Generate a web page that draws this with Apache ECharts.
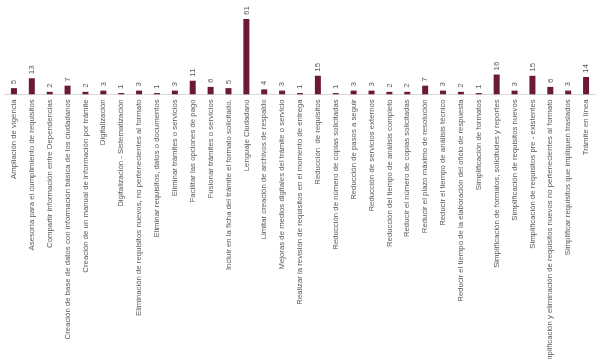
<!DOCTYPE html>
<html><head><meta charset="utf-8">
<script src="https://cdn.jsdelivr.net/npm/echarts@6/dist/echarts.min.js"></script>
<style>html,body{margin:0;padding:0;background:#fff}#c{width:600px;height:359px}</style>
</head><body><div id="c"></div>
<script>
const categories = [
  "Ampliación de vigencia",
  "Asesoría para el cumplimiento de requisitos",
  "Compartir información entre Dependencias",
  "Creación de base de datos con información básica de los ciudadanos",
  "Creación de un manual de información por trámite",
  "Digitalización",
  "Digitalización - Sistematización",
  "Eliminación de requisitos nuevos, no pertenecientes al formato",
  "Eliminar requisitos, datos o documentos",
  "Eliminar trámites o servicios",
  "Facilitar las opciones de pago",
  "Fusionar trámites o servicios",
  "Incluir en la ficha del trámite el formato solicitado.",
  "Lenguaje Ciudadano",
  "Limitar creación de archivos de respaldo",
  "Mejoras de medios digitales del trámite o servicio",
  "Realizar la revisión de requisitos en el momento de entrega",
  "Reducción  de requisitos",
  "Reducción de número de copias solicitadas",
  "Reducción de pasos a seguir",
  "Reducción de servicios externos",
  "Reducción del tiempo de análisis completo",
  "Reducir el número de copias solicitadas",
  "Reducir el plazo máximo de resolución",
  "Reducir el tiempo de análisis técnico",
  "Reducir el tiempo de la elaboración del oficio de respuesta",
  "Simplificación de formatos",
  "Simplificación de formatos, solicitudes y reportes",
  "Simplificación de requisitos nuevos",
  "Simplificación de requisitos pre - existentes",
  "Simplificación y eliminación de requisitos nuevos no pertenecientes al formato",
  "Simplificar requisitos que impliquen traslados",
  "Trámite en línea"
];
const values = [5,13,2,7,2,3,1,3,1,3,11,6,5,61,4,3,1,15,1,3,3,2,2,7,3,2,1,16,3,15,6,3,14];

const chart = echarts.init(document.getElementById('c'), null, {renderer:'canvas'});
chart.setOption({
  animation:false,
  backgroundColor:'#ffffff',
  grid:{left:5,right:5,top:19,bottom:264.7,containLabel:false,outerBoundsMode:'none'},
  xAxis:{
    type:'category',
    data:categories,
    axisTick:{show:false},
    axisLine:{lineStyle:{color:'#d9d9d9'}},
    axisLabel:{rotate:90,interval:0,fontSize:7.8,color:'#595959',fontFamily:'Liberation Sans, Arial, sans-serif',margin:5}
  },
  yAxis:{type:'value',min:0,max:61,show:false,splitLine:{show:false}},
  series:[{
    type:'bar',
    data:values,
    barWidth:6,
    itemStyle:{color:'#6b1a33'},
    label:{show:true,position:'top',rotate:90,align:'left',verticalAlign:'middle',distance:4,fontSize:8,color:'#595959',fontFamily:'Liberation Sans, Arial, sans-serif'}
  }]
});
</script></body></html>
